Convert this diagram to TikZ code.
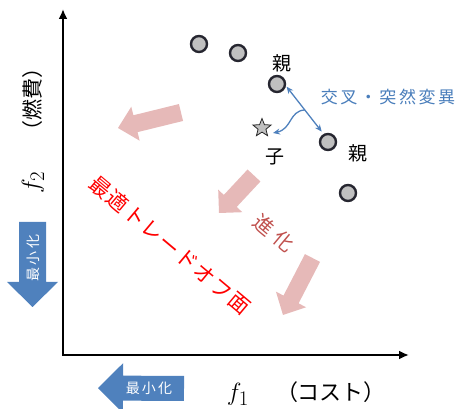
\documentclass[tikz,border=0pt]{standalone}
\usepackage{fontspec}
\newfontfamily\jp{Noto Sans CJK JP}
\newfontfamily\jpa[LetterSpace=15]{Noto Sans CJK JP}
\newfontfamily\jpb[LetterSpace=8]{Noto Sans CJK JP}
\newfontfamily\jpc[LetterSpace=30]{Noto Sans CJK JP}
\usetikzlibrary{calc,arrows.meta,shapes.geometric}
\definecolor{pinkarr}{RGB}{230,185,184}
\definecolor{bluearr}{RGB}{79,129,189}
\definecolor{bluetxt}{RGB}{74,126,187}
\definecolor{evored}{RGB}{192,80,77}
\definecolor{dotfill}{RGB}{192,192,192}
\definecolor{dotline}{RGB}{38,38,48}
\newcommand{\blockarr}[6]{%
  \coordinate (bt) at (#2); \coordinate (bp) at (#3);
  \coordinate (bh) at ($(bp)!#6!(bt)$);
  \fill[#1] ($(bt)!#4!90:(bp)$) -- ($(bh)!#4!90:(bp)$) -- ($(bh)!#5!90:(bp)$) -- (bp)
    -- ($(bh)!#5!-90:(bp)$) -- ($(bh)!#4!-90:(bp)$) -- ($(bt)!#4!-90:(bp)$) -- cycle;}
\begin{document}
\begin{tikzpicture}[x=1pt,y=-1pt,
  dot/.style={circle,draw=dotline,fill=dotfill,line width=2.4pt,minimum size=16pt,inner sep=0pt},
  lbl/.style={font=\jp\fontsize{19}{22}\selectfont,inner sep=0pt},
  axis/.style={line width=2.8pt,{Latex[length=10pt,width=9pt]}-{Latex[length=10pt,width=9pt]}},
  blueline/.style={draw=bluearr,line width=1.3pt},
  minlbl/.style={text=white,font=\jpa\fontsize{14}{16}\selectfont,inner sep=0pt},
  axlbl/.style={font=\jp\fontsize{21}{24}\selectfont,inner sep=0pt},
  mathlbl/.style={font=\fontsize{24.88}{30}\selectfont,inner sep=0pt}]
\clip (0,0) rectangle (459,409);
% axes
\coordinate (O) at (63,355);
\coordinate (ytip) at (63,9);
\coordinate (xtip) at (409,355);
\draw[axis] (ytip) -- (O) -- (xtip);
% axis labels
\node[mathlbl,rotate=90] (f2) at (33,182) {$f_2$};
\node[axlbl,rotate=90] (fuel) at (33,100) {（燃費）};
\node[mathlbl] (f1) at (238,394) {$f_1$};
\node[axlbl,font=\jp\fontsize{22}{24}\selectfont] (cost) at (331,392) {（コスト）};
% blue minimise arrows
\blockarr{bluearr}{32.5,222}{32.5,307}{13.5pt}{25.5pt}{25pt}
\node[minlbl,rotate=90] (minv) at (33,258) {最小化};
\blockarr{bluearr}{184,388.5}{98,388}{12.5pt}{25pt}{25pt}
\node[minlbl] (minh) at (149,388) {最小化};
% pink evolution arrows
\blockarr{pinkarr}{181,112.5}{118,128}{8.7pt}{17.5pt}{18pt}
\blockarr{pinkarr}{254,175.5}{219,213}{8.8pt}{16.5pt}{16.5pt}
\blockarr{pinkarr}{312.5,258}{283,315}{8.5pt}{17pt}{17.5pt}
% texts
\node[rotate=-40,text=evored,font=\jpc\fontsize{20}{24}\selectfont,inner sep=0pt] (evo) at (274,233) {進化};
\node[rotate=-40,text=red,font=\jpb\fontsize{21}{24}\selectfont,inner sep=0pt] (pareto) at (170,245) {最適トレードオフ面};
% population
\node[dot] (d1) at (199,44) {};
\node[dot] (d2) at (238,53) {};
\node[dot] (p1) at (277,84) {};
\node[dot] (p2) at (328,142) {};
\node[dot] (d3) at (348,193) {};
\node[star,star points=5,star point ratio=2.3,draw=black!85,fill=dotfill,line width=0.8pt,minimum size=19pt,inner sep=0pt] (child) at (262,128) {};
\node[lbl] (l1) at (282,63) {親};
\node[lbl] (l2) at (358,153) {親};
\node[lbl] (l3) at (275,157) {子};
% crossover / mutation
\node[text=bluetxt,font=\jpa\fontsize{17}{20}\selectfont,inner sep=0pt] (cm) at (388,97) {交叉・突然変異};
\coordinate (pa) at (p1.-12);
\coordinate (pb) at (p2.119);
\draw[blueline,{Stealth[length=7pt,width=6pt]}-{Stealth[length=7pt,width=6pt]},shorten <=1pt,shorten >=3pt] (pa) -- (pb);
\coordinate (mid) at ($(pa)!0.5!(pb)$);
\coordinate (ctip) at ($(child)+(11,5)$);
\draw[blueline,-{Stealth[length=7pt,width=6pt]}] (mid) .. controls (289,111) and (292,129) .. (ctip);
\end{tikzpicture}
\end{document}
